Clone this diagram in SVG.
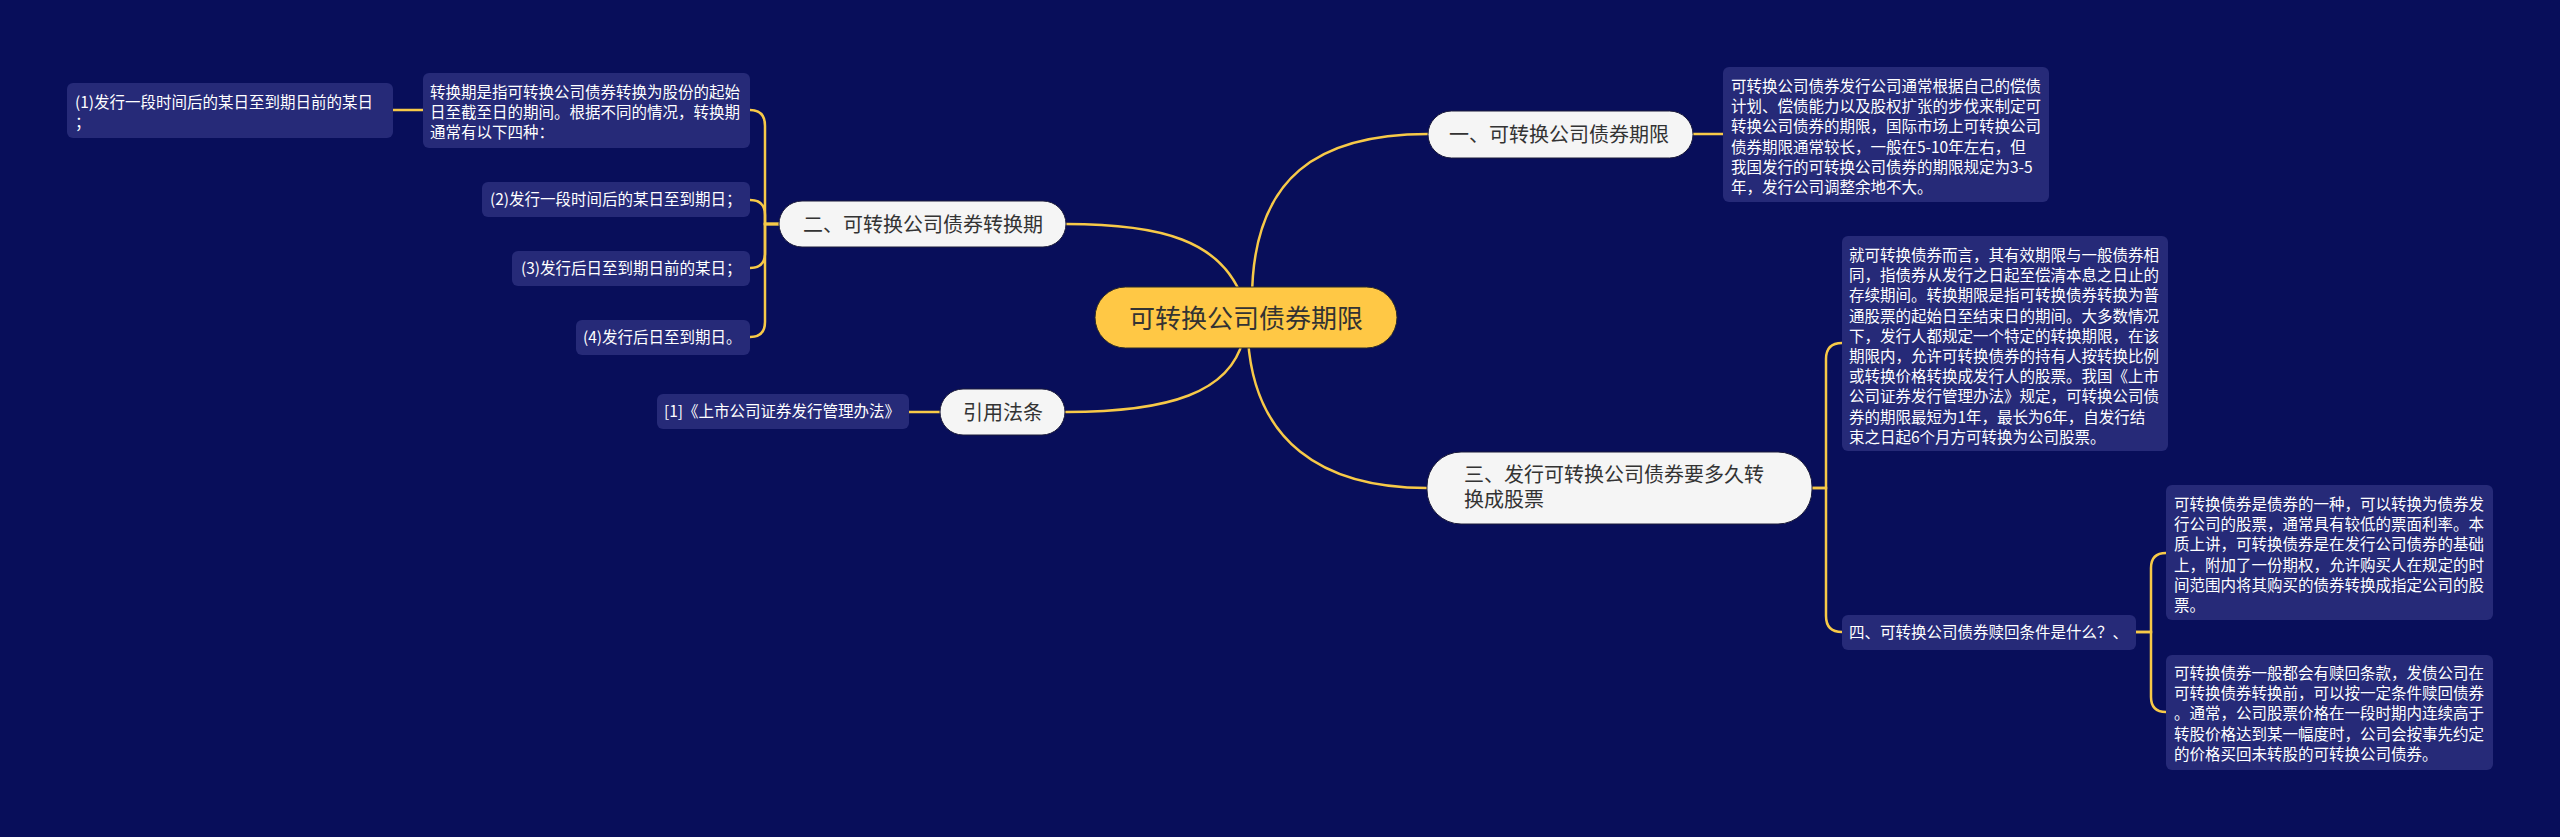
<svg xmlns="http://www.w3.org/2000/svg" width="2560" height="837" viewBox="0 0 2560 837">
<style>
.cn{font-family:"Noto Sans CJK SC","Noto Sans",sans-serif}
.box{fill:#262a78}
.bt{fill:#ffffff;font-size:15.5px}
.br{fill:#f5f5f5;stroke:#1a1a3a;stroke-width:1}
.brt{fill:#333333;font-size:20px}
.ln{fill:none;stroke:#f7c948;stroke-width:2.5;stroke-linecap:round}
</style>
<rect width="2560" height="837" fill="#080e5a"/>
<g id="connectors">
<path class="ln" d="M1252 300 C1252 175 1320 134 1428 134"/>
<path class="ln" d="M1066 224 C1160 224 1222 240 1243 300"/>
<path class="ln" d="M1066 412 C1170 412 1230 392 1243 340"/>
<path class="ln" d="M1248 340 C1255 440 1320 488 1427 488"/>
<path class="ln" d="M1693 134 L1723 134"/>
<path class="ln" d="M940 412 L909 412"/>
<path class="ln" d="M779 224 H765 V126 Q765 110 750 110"/>
<path class="ln" d="M779 224 H765 V215 Q765 200 750 200"/>
<path class="ln" d="M779 224 H765 V253 Q765 268 750 268"/>
<path class="ln" d="M779 224 H765 V322 Q765 337 750 337"/>
<path class="ln" d="M393 110 L423 110"/>
<path class="ln" d="M1812 488 H1826 V359 Q1826 343 1842 343"/>
<path class="ln" d="M1812 488 H1826 V616 Q1826 632 1842 632"/>
<path class="ln" d="M2136 632 H2151 V568 Q2151 553 2166 553"/>
<path class="ln" d="M2136 632 H2151 V697 Q2151 712 2166 712"/>
</g>
<g id="root">
<rect x="1095" y="287" width="302" height="61" rx="30.5" fill="#ffc845" stroke="#2a2a2a" stroke-width="1"/>
<text class="cn" x="1246" y="328" font-size="26" fill="#333333" text-anchor="middle">可转换公司债券期限</text>
</g>
<g id="b1">
<rect class="br" x="1428" y="111" width="265" height="47" rx="23.5"/>
<text class="cn brt" x="1449" y="142">一、可转换公司债券期限</text>
</g>
<g id="b1-text">
<rect class="box" x="1723" y="67" width="326" height="135" rx="6"/>
<text class="cn bt" x="1731" y="92">
<tspan x="1731" y="92">可转换公司债券发行公司通常根据自己的偿债</tspan>
<tspan x="1731" y="112.2">计划、偿债能力以及股权扩张的步伐来制定可</tspan>
<tspan x="1731" y="132.4">转换公司债券的期限，国际市场上可转换公司</tspan>
<tspan x="1731" y="152.6">债券期限通常较长，一般在5-10年左右，但</tspan>
<tspan x="1731" y="172.8">我国发行的可转换公司债券的期限规定为3-5</tspan>
<tspan x="1731" y="193">年，发行公司调整余地不大。</tspan>
</text>
</g>
<g id="b2">
<rect class="br" x="779" y="201" width="287" height="46" rx="23"/>
<text class="cn brt" x="803" y="232">二、可转换公司债券转换期</text>
</g>
<g id="b2-intro">
<rect class="box" x="423" y="73" width="327" height="75" rx="6"/>
<text class="cn bt">
<tspan x="430" y="98">转换期是指可转换公司债券转换为股份的起始</tspan>
<tspan x="430" y="118">日至截至日的期间。根据不同的情况，转换期</tspan>
<tspan x="430" y="138">通常有以下四种：</tspan>
</text>
</g>
<g id="b2-1">
<rect class="box" x="67" y="83" width="326" height="55" rx="6"/>
<text class="cn bt">
<tspan x="75" y="108">(1)发行一段时间后的某日至到期日前的某日</tspan>
<tspan x="75" y="128">；</tspan>
</text>
</g>
<g id="b2-2">
<rect class="box" x="482" y="182" width="268" height="35" rx="6"/>
<text class="cn bt" x="490" y="205">(2)发行一段时间后的某日至到期日；</text>
</g>
<g id="b2-3">
<rect class="box" x="512" y="251" width="238" height="35" rx="6"/>
<text class="cn bt" x="521" y="274">(3)发行后日至到期日前的某日；</text>
</g>
<g id="b2-4">
<rect class="box" x="576" y="320" width="174" height="35" rx="6"/>
<text class="cn bt" x="583" y="343">(4)发行后日至到期日。</text>
</g>
<g id="b-law">
<rect class="br" x="940" y="389" width="125" height="46" rx="23"/>
<text class="cn brt" x="963" y="420">引用法条</text>
</g>
<g id="b-law-1">
<rect class="box" x="657" y="394" width="252" height="35" rx="6"/>
<text class="cn bt" x="664" y="417">[1]《上市公司证券发行管理办法》</text>
</g>
<g id="b3">
<rect class="br" x="1427" y="452" width="385" height="72" rx="34"/>
<text class="cn brt">
<tspan x="1464" y="482">三、发行可转换公司债券要多久转</tspan>
<tspan x="1464" y="507">换成股票</tspan>
</text>
</g>
<g id="b3-text">
<rect class="box" x="1842" y="236" width="326" height="215" rx="6"/>
<text class="cn bt">
<tspan x="1849" y="261">就可转换债券而言，其有效期限与一般债券相</tspan>
<tspan x="1849" y="281.2">同，指债券从发行之日起至偿清本息之日止的</tspan>
<tspan x="1849" y="301.4">存续期间。转换期限是指可转换债券转换为普</tspan>
<tspan x="1849" y="321.6">通股票的起始日至结束日的期间。大多数情况</tspan>
<tspan x="1849" y="341.8">下，发行人都规定一个特定的转换期限，在该</tspan>
<tspan x="1849" y="362">期限内，允许可转换债券的持有人按转换比例</tspan>
<tspan x="1849" y="382.2">或转换价格转换成发行人的股票。我国《上市</tspan>
<tspan x="1849" y="402.4">公司证券发行管理办法》规定，可转换公司债</tspan>
<tspan x="1849" y="422.6">券的期限最短为1年，最长为6年，自发行结</tspan>
<tspan x="1849" y="442.8">束之日起6个月方可转换为公司股票。</tspan>
</text>
</g>
<g id="b4">
<rect class="box" x="1842" y="615" width="294" height="35" rx="6"/>
<text class="cn bt" x="1849" y="638">四、可转换公司债券赎回条件是什么？、</text>
</g>
<g id="b4-1">
<rect class="box" x="2166" y="485" width="327" height="135" rx="6"/>
<text class="cn bt">
<tspan x="2174" y="510">可转换债券是债券的一种，可以转换为债券发</tspan>
<tspan x="2174" y="530.2">行公司的股票，通常具有较低的票面利率。本</tspan>
<tspan x="2174" y="550.4">质上讲，可转换债券是在发行公司债券的基础</tspan>
<tspan x="2174" y="570.6">上，附加了一份期权，允许购买人在规定的时</tspan>
<tspan x="2174" y="590.8">间范围内将其购买的债券转换成指定公司的股</tspan>
<tspan x="2174" y="611">票。</tspan>
</text>
</g>
<g id="b4-2">
<rect class="box" x="2166" y="655" width="327" height="115" rx="6"/>
<text class="cn bt">
<tspan x="2174" y="679">可转换债券一般都会有赎回条款，发债公司在</tspan>
<tspan x="2174" y="699.2">可转换债券转换前，可以按一定条件赎回债券</tspan>
<tspan x="2174" y="719.4">。通常，公司股票价格在一段时期内连续高于</tspan>
<tspan x="2174" y="739.6">转股价格达到某一幅度时，公司会按事先约定</tspan>
<tspan x="2174" y="759.8">的价格买回未转股的可转换公司债券。</tspan>
</text>
</g>
</svg>
